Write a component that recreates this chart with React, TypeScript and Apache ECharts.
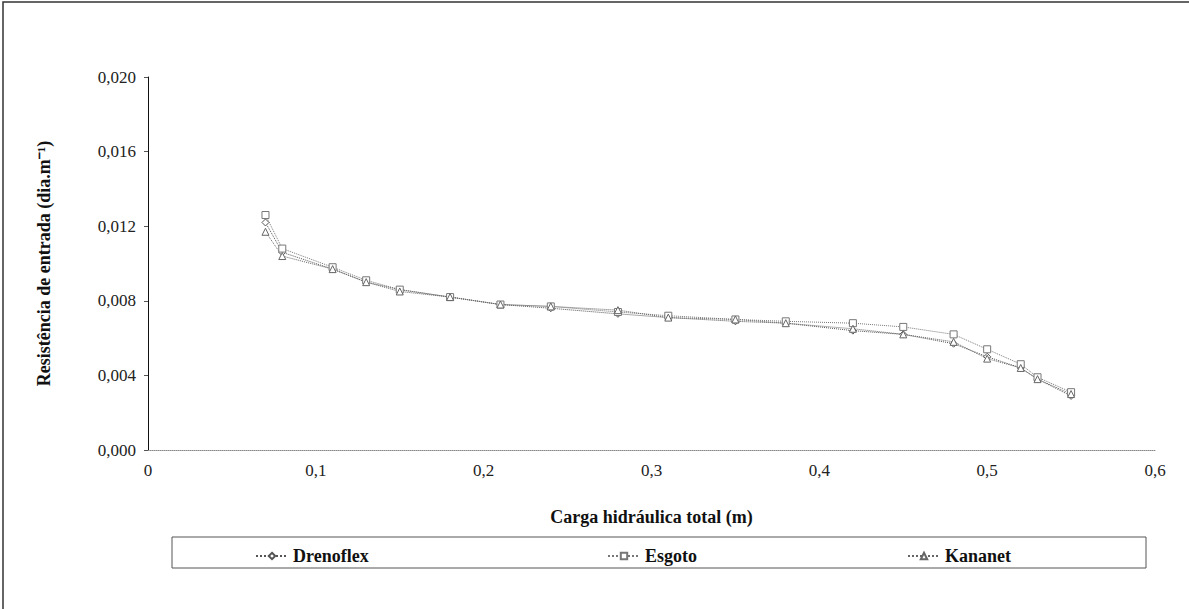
import React, { useEffect, useRef } from "react";
import * as echarts from "echarts";

const xValues = [0.07, 0.08, 0.11, 0.13, 0.15, 0.18, 0.21, 0.24, 0.28, 0.31, 0.35, 0.38, 0.42, 0.45, 0.48, 0.5, 0.52, 0.53, 0.55];
const drenoflex = [0.0122, 0.0106, 0.0097, 0.009, 0.0086, 0.0082, 0.0078, 0.0076, 0.0073, 0.0071, 0.0069, 0.0068, 0.0064, 0.0062, 0.0057, 0.005, 0.0044, 0.0038, 0.0029];
const esgoto = [0.0126, 0.0108, 0.0098, 0.0091, 0.0086, 0.0082, 0.0078, 0.0077, 0.0074, 0.0072, 0.007, 0.0069, 0.0068, 0.0066, 0.0062, 0.0054, 0.0046, 0.0039, 0.0031];
const kananet = [0.0117, 0.0104, 0.0097, 0.009, 0.0085, 0.0082, 0.0078, 0.0077, 0.0075, 0.0071, 0.007, 0.0068, 0.0065, 0.0062, 0.0058, 0.0049, 0.0044, 0.0038, 0.003];
const seriesNames = ["Drenoflex", "Esgoto", "Kananet"];
const xTitle = "Carga hidráulica total (m)";
const yTitle = "Resistência de entrada (dia.m⁻¹)";

const FONT = "serif";

export default function App() {
  const ref = useRef<HTMLDivElement>(null);
  useEffect(() => {
    if (!ref.current) return;
    const chart = echarts.init(ref.current, undefined, { renderer: "svg" });
    const toPairs = (ys: number[]) => xValues.map((x, i) => [x, ys[i]]);
    const symbols = ["diamond", "rect", "triangle"];
    const colors = ["#555", "#777", "#666"];
    const series = [drenoflex, esgoto, kananet].map((ys, i) => ({
      name: seriesNames[i],
      type: "line",
      data: toPairs(ys),
      symbol: symbols[i],
      symbolSize: 7,
      showSymbol: true,
      itemStyle: { color: "#fff", borderColor: colors[i], borderWidth: 1 },
      lineStyle: { color: colors[i], width: 1, type: "dotted" },
    }));
    const legendBase = {
      top: 542,
      itemWidth: 32,
      itemHeight: 8,
      textStyle: { fontFamily: FONT, fontWeight: "bold", fontSize: 18, color: "#111" },
      itemGap: 6,
    };
    chart.setOption({
      animation: false,
      backgroundColor: "#fff",
      textStyle: { fontFamily: FONT },
      grid: { left: 148, right: 34, top: 77, bottom: 159 },
      xAxis: {
        type: "value",
        min: 0,
        max: 0.6,
        interval: 0.1,
        axisLine: { show: true, lineStyle: { color: "#888", type: "dotted", width: 1 } },
        axisTick: { show: false },
        splitLine: { show: false },
        axisLabel: {
          fontFamily: FONT,
          fontSize: 17,
          color: "#222",
          margin: 12,
          formatter: (v: number) => (v === 0 ? "0" : v.toFixed(1).replace(".", ",")),
        },
        name: xTitle,
        nameLocation: "middle",
        nameGap: 58,
        nameTextStyle: { fontFamily: FONT, fontSize: 18, fontWeight: "bold", color: "#111" },
      },
      yAxis: {
        type: "value",
        min: 0,
        max: 0.02,
        interval: 0.004,
        axisLine: { show: true, lineStyle: { color: "#111", width: 1 } },
        axisTick: { show: true, inside: false, length: 4, lineStyle: { color: "#555" } },
        splitLine: { show: false },
        axisLabel: {
          fontFamily: FONT,
          fontSize: 17,
          color: "#222",
          margin: 12,
          formatter: (v: number) => v.toFixed(3).replace(".", ","),
        },
        name: yTitle,
        nameLocation: "middle",
        nameGap: 95,
        nameRotate: 90,
        nameTextStyle: { fontFamily: FONT, fontSize: 18, fontWeight: "bold", color: "#111" },
      },
      legend: [
        { ...legendBase, left: 250, data: [seriesNames[0]] },
        { ...legendBase, left: 602, data: [seriesNames[1]] },
        { ...legendBase, left: 902, data: [seriesNames[2]] },
      ],
      graphic: [
        {
          type: "rect",
          shape: { x: 3, y: 2, width: 1250, height: 700 },
          style: { fill: "none", stroke: "#333", lineWidth: 1.5 },
          silent: true,
        },
        {
          type: "rect",
          shape: { x: 172, y: 537, width: 974, height: 31 },
          style: { fill: "none", stroke: "#555", lineWidth: 1 },
          silent: true,
        },
      ],
      series,
    });
    return () => chart.dispose();
  }, []);
  return <div ref={ref} style={{ position: "fixed", left: 0, top: 0, width: 1189, height: 609 }} />;
}
